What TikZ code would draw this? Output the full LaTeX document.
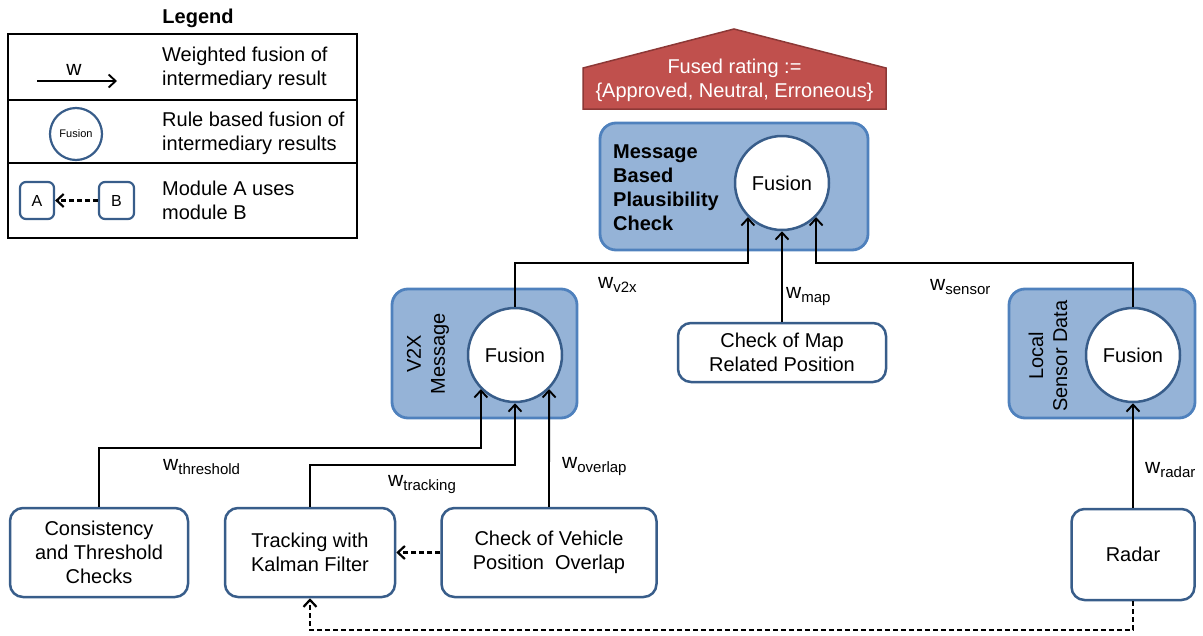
\documentclass[tikz,border=0pt]{standalone}
\usepackage{fontspec}
\setmainfont{Liberation Sans}
\usetikzlibrary{arrows.meta,calc}
\definecolor{boxfill}{HTML}{95B3D7}
\definecolor{contline}{HTML}{4F81BD}
\definecolor{modline}{HTML}{385D8A}
\definecolor{redfill}{HTML}{C0504D}
\definecolor{redline}{HTML}{8C3836}
\newcommand\txtnorm{\fontsize{20}{24}\selectfont}
\newcommand\wlab[1]{{\fontsize{21}{24}\selectfont w}\raisebox{-4pt}{\fontsize{15}{16}\selectfont #1}}
\tikzset{
  container/.style={draw=contline, fill=boxfill, line width=2.8pt, rounded corners=16pt, inner sep=0pt},
  module/.style={draw=modline, fill=white, line width=2.5pt, rounded corners=13pt, align=center, font=\txtnorm, inner sep=0pt},
  fusion/.style={circle, draw=modline, fill=white, line width=2.5pt, minimum size=94pt, inner sep=0pt, font=\txtnorm},
  wline/.style={line width=1.9pt, -{Straight Barb[length=7pt,width=13pt,line width=1.9pt]}},
  dasharrow/.style={line width=2.2pt, dash pattern=on 5pt off 3pt, -{Straight Barb[length=7pt,width=13pt,line width=2.2pt]}},
  wtext/.style={anchor=west, font=\txtnorm, inner sep=0pt},
  ltext/.style={anchor=west, align=left, font=\txtnorm, inner sep=0pt},
}
\begin{document}
\begin{tikzpicture}[x=1pt,y=-1pt]
\useasboundingbox (0,0) rectangle (1203,635);

% ---------- legend ----------
\node[font=\txtnorm\bfseries] (legtitle) at (198,18) {Legend};
\draw[line width=1.2pt] (8,34) rectangle (357,238);
\draw[line width=1.2pt] (8,100) -- (357,100);
\draw[line width=1.2pt] (8,163) -- (357,163);
\coordinate (legA0) at (37,81);
\coordinate (legA1) at (117,81);
\draw[wline] (legA0) -- (legA1);
\node[font=\fontsize{21}{24}\selectfont, inner sep=0pt] (legw) at (74,70) {w};
\node[ltext] (leg1) at (162,68.5) {Weighted fusion of\\intermediary result};
\node[fusion, minimum size=52pt, line width=2.2pt, font=\fontsize{11}{13}\selectfont] (legfus) at (76,134) {Fusion};
\node[ltext] (leg2) at (162,133) {Rule based fusion of\\intermediary results};
\node[module, line width=2.2pt, rounded corners=6pt, minimum width=34pt, minimum height=37pt, font=\fontsize{16}{18}\selectfont] (legA) at (37,200.5) {A};
\node[module, line width=2.2pt, rounded corners=6pt, minimum width=35pt, minimum height=37pt, font=\fontsize{16}{18}\selectfont] (legB) at (116.5,200.5) {B};
\draw[dasharrow] (legB.west) -- (legA.east);
\node[ltext] (leg3) at (162,200.5) {Module A uses\\module B};

% ---------- fused rating ----------
\fill[redfill, draw=redline, line width=1.5pt] (583,109) -- (583,68) -- (734,29) -- (886,68) -- (886,109) -- cycle;
\node[font=\txtnorm, text=white, align=center, inner sep=0pt] (rating) at (734.5,80.5) {Fused rating :=\\\{Approved, Neutral, Erroneous\}};

% ---------- message based plausibility check ----------
\node[container, minimum width=268pt, minimum height=127pt] (mbpc) at (734,186.5) {};
\node[anchor=west, align=left, font=\fontsize{20}{24}\selectfont\bfseries, inner sep=0pt] (mbpctext) at (613,188) {Message\\Based\\Plausibility\\Check};
\node[fusion] (fusMain) at (782,183) {Fusion};

% ---------- V2X message ----------
\node[container, minimum width=185pt, minimum height=129pt] (v2x) at (484.5,353.5) {};
\node[rotate=90, align=center, font=\txtnorm, inner sep=0pt] (v2xtext) at (428,354) {V2X\\Message};
\node[fusion] (fusV2X) at (515,355) {Fusion};

% ---------- local sensor data ----------
\node[container, minimum width=186pt, minimum height=129pt] (sens) at (1102,353.5) {};
\node[rotate=90, align=center, font=\txtnorm, inner sep=0pt] (senstext) at (1048,356) {Local\\Sensor Data};
\node[fusion] (fusSens) at (1133,355) {Fusion};

% ---------- modules ----------
\node[module, minimum width=208pt, minimum height=59pt] (map) at (782,352.5) {Check of Map\\Related Position};
\node[module, minimum width=178pt, minimum height=89pt] (cons) at (99,552.5) {Consistency\\and Threshold\\Checks};
\node[module, minimum width=170pt, minimum height=89pt] (track) at (310,552.5) {Tracking with\\Kalman Filter};
\node[module, minimum width=215pt, minimum height=89pt] (over) at (549,552.5) {Check of Vehicle\\Position\ \ Overlap};
\node[module, minimum width=123pt, minimum height=91pt] (radar) at (1133,554.5) {Radar};

% ---------- weighted connectors ----------
\coordinate (busTop) at (0,263);
\coordinate (busThr) at (0,448);
\coordinate (busTrk) at (0,465);
\coordinate (busDash) at (0,630);

\draw[wline] (fusV2X.north) |- (fusMain.-135 |- busTop) -- (fusMain.-135);
\draw[wline] (map.north) -- (fusMain.south);
\draw[wline] (fusSens.north) |- (fusMain.-45 |- busTop) -- (fusMain.-45);

\draw[wline] (cons.north) |- (fusV2X.-135 |- busThr) -- (fusV2X.-135);
\draw[wline] (track.north) |- (fusV2X.south |- busTrk) -- (fusV2X.south);
\draw[wline] (over.north) -- (fusV2X.-45);
\draw[wline] (radar.north) -- (fusSens.south);

% ---------- usage (dashed) ----------
\draw[dasharrow] (over.west) -- (track.east);
\draw[dasharrow] (radar.south) -- (radar.south |- busDash) -| (track.south);

% ---------- weights ----------
\node[wtext] (wv2x) at (598,285) {\wlab{v2x}};
\node[wtext] (wmap) at (786,297) {\wlab{map}};
\node[wtext] (wsens) at (930,287) {\wlab{sensor}};
\node[wtext] (wthr) at (163,467) {\wlab{threshold}};
\node[wtext] (wtrk) at (388,485) {\wlab{tracking}};
\node[wtext] (wovl) at (562,467) {\wlab{overlap}};
\node[wtext] (wrad) at (1145,470) {\wlab{radar}};
\end{tikzpicture}
\end{document}
